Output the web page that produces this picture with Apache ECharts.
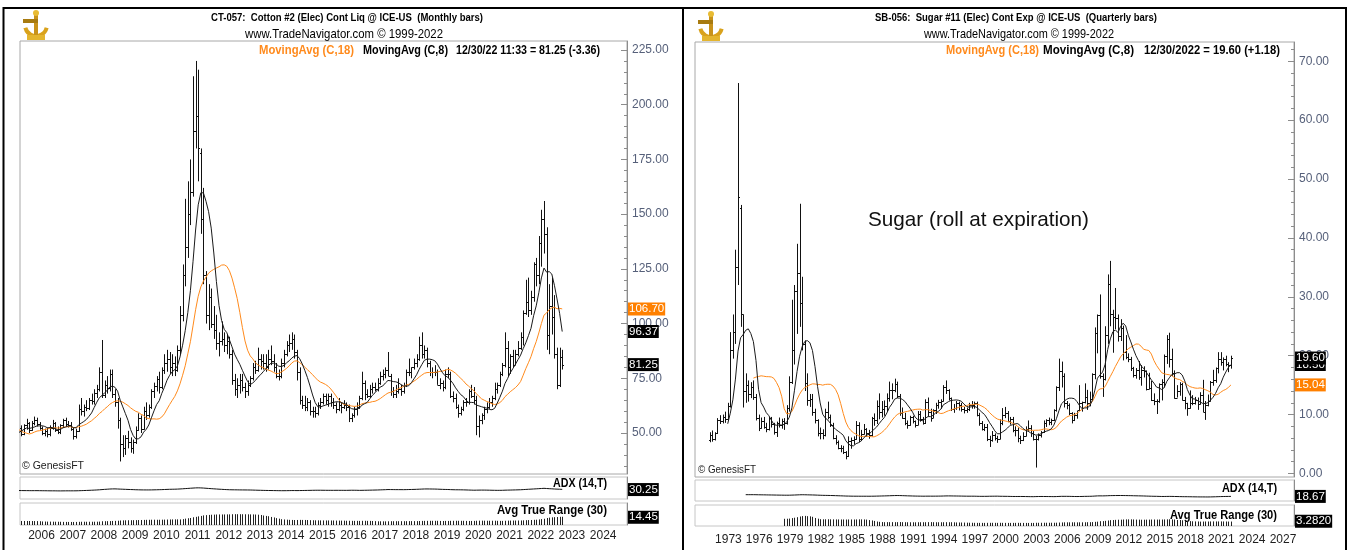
<!DOCTYPE html>
<html><head><meta charset="utf-8">
<script src="https://cdn.jsdelivr.net/npm/echarts@6/dist/echarts.min.js"></script>
<style>html,body{margin:0;padding:0;background:#fff;}#c{width:1351px;height:550px;}</style>
</head><body><div id="c"></div>
<script>
// ---------------- Cotton #2, monthly bars from Jan 2003 ----------------
const cottonStartYear = 2003;
const cottonOpen = [
50.5,55,54,53.5,55,50,52.5,48,53.5,62,72,70,
73,70,64,62,61,58,49,46,45.5,49.5,46,45,
44.5,47,49.5,53.5,52,53,50,52.5,49.5,53.5,54.5,51.5,
54.5,56,54,52.5,50,51,49.5,52.5,54.5,51.5,50.5,53.5,
56,54,53.5,52,48.5,51,61,60,62,61.5,65,64.5,
68.5,70,78,67.5,72,70.5,77,68,64,56,45,43,
47.5,46,43,46,51.5,57,52,60,58,62,69,71.5,
74.5,71,79,82,84,80,82,79,88,104,122,135,
150,160,188,195,178,148,122,104,112,100,97,91,
92,93,90,92,86,74,70,72,74,71,69,72,
75,80,79,84,83,82,80,84,83,80,76,76,
82,86,90,91,93,87,78,65,63,62,64,60,
60,59,63,64,67,65,67,64,63,61,63,62,
63,62,57,58,61,62,66,73,68,67,70,71,
70,73,76,77,79,76,69,68,69,70,69,72,
78,78,80,82,84,90,86,88,82,78,78,78,
72,73,71,77,77,67,66,62,59,61,64,64,
69,67,65,53,56,58,61,62,64,66,70,72,
77,81,89,80,85,81,86,89,93.7,105,110,106,
112,127,122,137,148,141,95,108,103,86,72,84.61];
const cottonHigh = [
56,57.5,57,56,56,54,54,54,63,81,75,76,
76,71,66,64,63,59,51,48,51,50,47,47,
48,50.5,55,56,55,54,54,53.5,54,56.5,55,55.5,
57.5,57,55,53,52,52.5,53.5,56,55,53,54,56.5,
57,55.5,55,52.5,52,63,66,63,65,66,68,70,
72,80,92.5,74,76,79,79,70,66,57,49,49,
51,48,47,53,59,58,62,64,63,70,73,76,
78,80,86,88,87,86,85,90,108,127,157,165,
175,213,220,216,180,162,124,118,116,108,104,96,
101,96,95,94,88,77,75,77,77,73,74,76,
82,83,89,86,86,86,88,90,86,82,79,84,
88,92,95,96,95,88,80,67,67,66,65,62,
62,64,66,68,68,68,68,66,64,66,64,65,
64,63,59,62,64,67,78,74,70,72,73,73,
75,78,79,80,87,77,71,72,75,72,73,79,
84,80,84,86,94,96,90,89,83,80,81,79,
75,74,79,80,78,69,68,63,62,65,66,70,
72,71,67,58,59,62,64,66,67,73,73,78,
82,96,92,86,88,88,92,96,106,120,121,115,
128,130,140,152,156,144,118,121,113,89,89,88];
const cottonLow = [
50,53,52,51.5,49,48,47,47.5,53,61.5,66,68,
69,63,59,59,57,48,45,43.5,45,45,44,42,
44,46,49,51,50.5,48.5,49.5,48.5,49,51.5,50,51,
53.5,53,51.5,49,48.5,48,48.5,51.5,50.5,49.5,49.5,52.5,
53,52.5,51,47,47.5,50.5,58,57.5,60,60.5,63,63,
66,69,66,66,68,69,66,62,52,37,39,40,
43,41,40.5,45,51,50,51.5,56,57,61,66,69,
68,70,77,78,77,76,76,78,86,101,117,130,
145,158,180,165,141,118,100,97,98,93,88,85,
90,87,86,84,72,67,66,68,69,66,67,71,
74,77,78,79,79,78,79,81,78,75,74,75,
80,85,87,88,84,74,63,61,60,60,58,57,
57,58,61,63,63,62,62,61,59,60,59,61,
60,55,55,57,58,61,65,65,66,66,68,69,
69,72,74,75,76,67,66,66,68,67,68,71,
76,75,79,80,83,84,84,80,76,75,76,72,
70,69,70,75,66,64,61,57,58,60,62,63,
66,63,49,48,54,56,59,61,62,65,68,71,
76,80,76,77,80,81,85,88,90,104,103,104,
110,117,118,126,132,88,86,95,84,70,71,79];
const cottonClose = [
55,54,53.5,55,50,52.5,48,53.5,62,72,70,73,
70,64,62,61,58,49,46,45.5,49.5,46,45,44.5,
47,49.5,53.5,52,53,50,52.5,49.5,53.5,54.5,51.5,54.5,
56,54,52.5,50,51,49.5,52.5,54.5,51.5,50.5,53.5,56,
54,53.5,52,48.5,51,61,60,62,61.5,65,64.5,68.5,
70,78,67.5,72,70.5,77,68,64,56,45,43,47.5,
46,43,46,51.5,57,52,60,58,62,69,71.5,74.5,
71,79,82,84,80,82,79,88,104,122,135,150,
160,188,195,180,148,122,104,112,100,97,91,92,
93,90,92,86,74,70,72,74,71,69,72,75,
80,79,84,83,82,80,84,83,80,76,76,82,
86,90,91,93,87,78,65,63,62,64,60,60,
59,63,64,67,65,67,64,63,61,63,62,63,
62,57,58,61,62,66,73,68,67,70,71,70,
73,76,77,79,76,69,68,69,70,69,72,78,
78,80,82,84,90,86,88,82,78,78,78,72,
73,71,77,77,67,66,62,59,61,64,64,69,
67,65,53,56,58,61,62,64,66,70,72,77,
81,89,80,85,81,86,89,93.7,105,110,106,112,
127,122,137,148,141,95,108,103,86,72,84.61,81.25];

// ---------------- Sugar #11, quarterly bars from Q1 1972 ----------------
const sugarStartYear = 1972;
const sugarOpen = [
5.6,6.6,5.9,6.8, 9.0,8.9,9.6,9.2, 11.5,21.0,24.0,35.0, 45.0,27.0,14.0,15.0,
13.5,14.6,13.0,9.5, 7.8,8.9,7.9,7.5, 9.4,8.4,7.0,8.6, 8.2,8.9,8.6,11.2,
15.6,21.0,31.0,34.0, 29.0,22.0,15.4,12.5, 12.7,10.4,9.0,6.9, 6.9,6.6,10.4,9.6,
8.2,6.0,5.4,4.4, 4.3,3.6,2.9,5.5, 5.6,5.9,8.3,5.8, 6.7,7.5,6.8,6.5,
9.4,9.0,11.5,10.5, 11.0,11.4,12.9,14.2, 14.2,15.2,13.2,10.2, 9.4,8.6,8.2,9.6,
8.9,8.3,10.1,9.3, 8.5,12.1,10.5,9.5, 10.7,11.6,12.1,12.3, 14.6,14.1,12.8,11.0,
11.1,11.9,11.6,11.0, 10.8,11.0,11.6,11.7, 11.9,10.0,8.5,7.6, 7.9,5.8,5.6,6.5,
6.1,5.9,8.6,10.0, 10.2,8.9,9.2,7.3, 7.4,6.1,5.6,6.4, 7.6,7.8,6.9,5.8,
5.9,6.5,7.0,8.5, 9.0,8.8,9.1,10.7, 14.7,17.4,16.5,11.9, 11.7,10.3,9.1,10.0,
10.8,12.0,12.1,13.0, 11.9,12.7,16.9,23.9, 26.9,16.5,16.0,23.5, 32.1,27.0,26.6,26.4,
23.3,24.7,20.6,19.7, 19.5,17.9,16.7,17.6, 16.4,17.6,17.4,14.4, 14.5,12.5,12.3,12.3,
15.2,15.5,19.9,22.8, 19.5,17.1,12.9,14.0, 15.2,12.4,11.9,11.1, 12.0,12.0,12.5,11.8,
13.4,10.5,11.6,12.3, 15.5,15.8,17.9,19.4, 18.9,19.4,18.6,18.42];
const sugarHigh = [
7.0,7.3,7.0,9.4, 9.9,10.0,10.5,12.0, 24.0,27.0,38.0,66.3, 45.6,27.0,17.0,15.8,
15.5,15.8,13.5,10.0, 9.5,9.6,8.6,9.6, 9.6,8.6,8.8,9.5, 9.3,9.4,11.6,16.5,
29.5,32.0,39.0,45.8, 33.4,22.6,17.0,13.5, 13.5,11.0,9.2,7.8, 7.5,11.0,12.2,10.0,
8.6,6.5,5.6,4.8, 4.7,3.8,6.3,6.1, 6.3,8.9,8.7,7.4, 8.4,7.7,7.4,9.6,
10.2,12.4,13.6,12.3, 12.4,13.6,15.6,15.3, 16.1,15.6,13.5,11.2, 10.3,9.0,9.8,9.8,
9.0,10.6,10.6,9.6, 12.6,12.9,11.0,10.9, 12.0,12.5,12.6,15.0, 15.8,14.3,12.9,11.8,
12.3,12.2,12.0,11.3, 11.2,12.0,12.3,12.2, 12.2,10.3,8.9,8.4, 8.4,6.4,7.2,6.8,
6.4,9.2,11.1,11.3, 10.6,9.6,9.6,8.0, 7.8,6.4,7.0,8.0, 9.0,8.2,7.2,6.4,
6.8,7.2,9.0,9.2, 9.5,9.3,10.9,14.8, 19.5,19.0,17.0,12.3, 11.9,10.4,10.3,10.6,
15.0,12.2,15.3,14.2, 13.9,17.0,24.8,27.0, 30.4,17.0,25.0,33.8, 36.1,27.8,31.5,27.0,
26.2,25.1,23.5,20.4, 19.8,18.1,17.9,19.1, 18.4,18.2,17.5,17.1, 15.7,13.6,12.6,15.3,
16.0,20.2,23.5,23.9, 21.2,17.5,15.0,15.5, 15.4,13.0,12.0,14.1, 13.3,13.0,12.9,13.8,
15.9,12.3,13.4,15.7, 17.6,18.0,20.6,20.6, 19.7,20.0,18.9,20.0];
const sugarLow = [
5.3,5.4,5.6,6.7, 8.4,8.5,8.6,9.0, 11.2,19.5,22.0,32.0, 24.9,11.2,12.0,12.2,
12.8,12.5,9.0,7.2, 7.6,7.6,7.0,7.3, 7.8,6.6,6.2,7.8, 7.6,7.4,8.3,10.5,
15.2,18.5,23.7,24.9, 20.9,14.0,11.5,11.3, 9.8,8.5,6.3,5.8, 5.8,6.3,9.2,7.9,
5.8,4.9,4.1,3.6, 3.3,2.4,2.8,4.2, 4.9,5.7,5.3,5.5, 6.6,6.2,5.9,6.3,
8.1,8.4,9.2,9.5, 9.8,10.5,12.2,12.6, 13.8,12.8,9.8,9.3, 8.2,7.6,8.1,8.5,
7.8,8.2,8.8,8.3, 8.4,9.7,8.8,9.4, 10.1,11.0,11.0,12.2, 13.5,12.4,10.6,10.3,
10.8,10.7,10.5,10.2, 10.3,10.6,11.0,11.0, 9.7,8.1,7.3,7.2, 5.5,4.5,5.4,5.6,
5.2,5.8,8.2,9.4, 8.7,8.3,7.0,6.3, 5.3,5.0,5.5,6.3, 7.1,6.2,5.6,1.0,
5.6,6.1,6.9,7.9, 8.2,8.2,8.9,10.5, 14.0,14.6,11.2,10.9, 9.9,8.5,8.9,9.3,
10.6,10.5,11.9,10.8, 11.4,12.4,16.0,20.4, 16.1,13.0,15.8,22.0, 25.0,20.5,24.5,22.4,
22.5,19.2,19.4,18.9, 17.4,16.3,16.1,15.9, 14.9,16.3,14.1,14.3, 12.3,11.6,10.1,12.0,
12.4,14.6,18.6,18.0, 16.5,12.7,12.9,13.2, 12.4,10.9,9.8,11.0, 11.6,11.7,10.8,11.7,
10.4,9.1,11.4,12.2, 14.9,15.4,17.0,18.3, 17.5,18.2,17.2,17.8];
const sugarClose = [
6.6,5.9,6.8,9.0, 8.9,9.6,9.2,11.5, 21.0,24.0,35.0,47.0, 27.0,14.0,15.0,13.5,
14.6,13.0,9.5,7.8, 8.9,7.9,7.5,9.4, 8.4,7.0,8.6,8.2, 8.9,8.6,11.2,15.6,
21.0,31.0,34.0,29.0, 22.0,15.4,12.5,12.7, 10.4,9.0,6.9,6.9, 6.6,10.4,9.6,8.2,
6.0,5.4,4.4,4.3, 3.6,2.9,5.5,5.6, 5.9,8.3,5.8,6.7, 7.5,6.8,6.5,9.4,
9.0,11.5,10.5,11.0, 11.4,12.9,14.2,14.2, 15.2,13.2,10.2,9.4, 8.6,8.2,9.6,8.9,
8.3,10.1,9.3,8.5, 12.1,10.5,9.5,10.7, 11.6,12.1,12.3,14.6, 14.1,12.8,11.0,11.1,
11.9,11.6,11.0,10.8, 11.0,11.6,11.7,11.9, 10.0,8.5,7.6,7.9, 5.8,5.6,6.5,6.1,
5.9,8.6,10.0,10.2, 8.9,9.2,7.3,7.4, 6.1,5.6,6.4,7.6, 7.8,6.9,5.8,5.9,
6.5,7.0,8.5,9.0, 8.8,9.1,10.7,14.7, 17.4,16.5,11.9,11.7, 10.3,9.1,10.0,10.8,
12.0,12.1,13.0,11.9, 12.7,16.9,23.9,26.9, 16.5,16.0,23.5,32.1, 27.0,26.6,26.4,23.3,
24.7,20.6,19.7,19.5, 17.9,16.7,17.6,16.4, 17.6,17.4,14.4,14.5, 12.5,12.3,12.3,15.2,
15.5,19.9,22.8,19.5, 17.1,12.9,14.0,15.2, 12.4,11.9,11.1,12.0, 12.0,12.5,11.8,13.4,
10.5,11.6,12.3,15.5, 15.8,17.9,19.4,18.9, 19.4,18.6,18.42,19.6];

// ---------------- axis labels / tick values / readout tags ----------------
const cottonYearLabels = [2006,2007,2008,2009,2010,2011,2012,2013,2014,2015,2016,2017,2018,2019,2020,2021,2022,2023,2024];
const sugarYearLabels = [1973,1976,1979,1982,1985,1988,1991,1994,1997,2000,2003,2006,2009,2012,2015,2018,2021,2024,2027];
const cottonPriceTicks = [50,75,100,125,150,175,200,225];
const sugarPriceTicks = [0,10,20,30,40,50,60,70];
const cottonTagValues = [106.70, 96.37, 81.25];   // MA18, MA8, last
const cottonIndicatorTags = [30.25, 14.45];       // ADX, ATR
const sugarTagValues = [15.04, 18.50, 19.60];     // MA18, MA8, last
const sugarIndicatorTags = [18.67, 3.2820];       // ADX, ATR

// ---------------- indicator helpers ----------------
function sma(v, n) {
  return v.map((_, i) => { if (i < n - 1) return null; let s = 0; for (let k = i - n + 1; k <= i; k++) s += v[k]; return s / n; });
}
function atrSeries(H, L, C, n) {
  const tr = H.map((h, i) => i === 0 ? h - L[i] : Math.max(h - L[i], Math.abs(h - C[i - 1]), Math.abs(L[i] - C[i - 1])));
  return sma(tr, n);
}
function adxSeries(H, L, C, n) {
  const out = new Array(H.length).fill(null);
  let trS = 0, pS = 0, mS = 0, adx = null;
  for (let i = 1; i < H.length; i++) {
    const up = H[i] - H[i - 1], dn = L[i - 1] - L[i];
    const pdm = (up > dn && up > 0) ? up : 0, mdm = (dn > up && dn > 0) ? dn : 0;
    const tr = Math.max(H[i] - L[i], Math.abs(H[i] - C[i - 1]), Math.abs(L[i] - C[i - 1]));
    if (i <= n) { trS += tr; pS += pdm; mS += mdm; if (i < n) continue; }
    else { trS = trS - trS / n + tr; pS = pS - pS / n + pdm; mS = mS - mS / n + mdm; }
    const pdi = 100 * pS / trS, mdi = 100 * mS / trS;
    const dx = (pdi + mdi) === 0 ? 0 : 100 * Math.abs(pdi - mdi) / (pdi + mdi);
    adx = adx === null ? dx : (adx * (n - 1) + dx) / n;
    out[i] = adx;
  }
  return out;
}

const ARIAL = "'Liberation Sans',Arial,Helvetica,sans-serif";

function ohlcItem(params, api) {
  const x = api.value(0);
  const pH = api.coord([x, api.value(2)]), pL = api.coord([x, api.value(3)]);
  const pO = api.coord([x, api.value(1)]), pC = api.coord([x, api.value(4)]);
  const cx = Math.round(pH[0]) + 0.5;
  const oy = Math.round(pO[1]) + 0.5, cy = Math.round(pC[1]) + 0.5;
  const s = { stroke: '#111', lineWidth: 1 };
  return { type: 'group', children: [
    { type: 'line', shape: { x1: cx, y1: pH[1], x2: cx, y2: pL[1] }, style: s },
    { type: 'line', shape: { x1: cx - 1.5, y1: oy, x2: cx, y2: oy }, style: s },
    { type: 'line', shape: { x1: cx, y1: cy, x2: cx + 1.5, y2: cy }, style: s }
  ]};
}
function histItem(params, api) {
  const x = api.value(0);
  const p = api.coord([x, api.value(1)]);
  const base = params.coordSys.y + params.coordSys.height;
  const cx = Math.round(p[0]) + 0.5;
  return { type: 'line', shape: { x1: cx, y1: base, x2: cx, y2: p[1] }, style: { stroke: '#222', lineWidth: 1 } };
}

function addChart(opt, c) {
  const g0 = opt.grid.length;
  c.grids.forEach((g, k) => opt.grid.push(Object.assign({ show: true, borderWidth: 1, borderColor: k === 0 ? '#a8a8a8' : '#c6c6c6', backgroundColor: 'rgba(0,0,0,0)' }, g)));
  const x0 = opt.xAxis.length;
  for (let k = 0; k < 3; k++) {
    opt.xAxis.push({ gridIndex: g0 + k, type: 'value', min: c.xMin, max: c.xMax, show: k === 2,
      axisLine: { show: false }, axisTick: { show: false }, splitLine: { show: false },
      axisLabel: k === 2 ? { customValues: c.years.map(y => y + c.yearShift), formatter: v => String(Math.floor(v)),
        color: '#1e1e1e', fontFamily: ARIAL, fontSize: 12, margin: c.yearMargin } : { show: false } });
  }
  const ranges = [[c.yMin, c.yMax], c.adxRange, c.atrRange];
  const yMain = opt.yAxis.length;
  opt.yAxis.push({ gridIndex: g0, type: 'value', min: c.yMin, max: c.yMax, position: 'right', z: 2,
    axisLine: { show: true, lineStyle: { color: '#8c8c8c', width: 1 } },
    axisTick: { show: true, inside: true, length: 6, customValues: c.ticks, lineStyle: { color: '#8c8c8c' } },
    axisLabel: { customValues: c.ticks, formatter: v => v.toFixed(2), color: '#56607a', fontFamily: ARIAL, fontSize: 12, margin: 5 },
    splitLine: { show: false } });
  opt.yAxis.push({ gridIndex: g0, type: 'value', min: c.yMin, max: c.yMax, position: 'right', z: 2,
    axisLine: { show: false }, axisTick: { show: true, inside: true, length: 3, customValues: c.minor, lineStyle: { color: '#8c8c8c' } },
    axisLabel: { show: false }, splitLine: { show: false } });
  const yAdx = opt.yAxis.length;
  opt.yAxis.push({ gridIndex: g0 + 1, type: 'value', min: c.adxRange[0], max: c.adxRange[1], position: 'right',
    axisLine: { show: true, lineStyle: { color: '#8c8c8c' } }, axisTick: { show: false }, axisLabel: { show: false }, splitLine: { show: false } });
  const yAtr = opt.yAxis.length;
  opt.yAxis.push({ gridIndex: g0 + 2, type: 'value', min: c.atrRange[0], max: c.atrRange[1], position: 'right',
    axisLine: { show: true, lineStyle: { color: '#8c8c8c' } }, axisTick: { show: false }, axisLabel: { show: false }, splitLine: { show: false } });
  c.tags.forEach((t, k) => opt.yAxis.push({ gridIndex: g0 + t.panel, type: 'value', min: ranges[t.panel][0], max: ranges[t.panel][1],
    position: 'right', z: 5 + k, axisLine: { show: false }, axisTick: { show: false }, splitLine: { show: false },
    axisLabel: { customValues: [t.value], formatter: () => t.value.toFixed(t.dec), color: '#fff', backgroundColor: t.bg,
      padding: [1, 1, 0, 1], fontFamily: ARIAL, fontSize: 11.5, lineHeight: 12, margin: 1 } }));

  const tt = c.open.map((_, i) => c.startYear + i / c.perYear + 0.5 / c.perYear);
  const ohlc = tt.map((t, i) => [t, c.open[i], c.high[i], c.low[i], c.close[i]]);
  const pts = arr => tt.map((t, i) => [t, arr[i]]).filter(p => p[1] !== null);
  const ma18 = sma(c.close, 18), ma8 = sma(c.close, 8);
  const adx = adxSeries(c.high, c.low, c.close, 14), atr = atrSeries(c.high, c.low, c.close, 30);
  opt.series.push({ type: 'custom', xAxisIndex: x0, yAxisIndex: yMain, clip: true, silent: true, z: 2,
    data: ohlc, encode: { x: 0, y: [1, 2, 3, 4] }, renderItem: ohlcItem });
  opt.series.push({ type: 'line', xAxisIndex: x0, yAxisIndex: yMain, data: pts(ma18), showSymbol: false, silent: true, z: 3,
    lineStyle: { color: '#ff8a1c', width: 1 } });
  opt.series.push({ type: 'line', xAxisIndex: x0, yAxisIndex: yMain, data: pts(ma8), showSymbol: false, silent: true, z: 4,
    lineStyle: { color: '#1a1a1a', width: 1 } });
  opt.series.push({ type: 'line', xAxisIndex: x0 + 1, yAxisIndex: yAdx, data: pts(adx), showSymbol: false, silent: true,
    lineStyle: { color: '#111', width: 1 } });
  opt.series.push({ type: 'custom', xAxisIndex: x0 + 2, yAxisIndex: yAtr, clip: true, silent: true,
    data: pts(atr), encode: { x: 0, y: 1 }, renderItem: histItem });
}

function logo(x0, y0) {
  return { type: 'group', x: x0, y: y0, silent: true, children: [
    { type: 'sector', shape: { cx: 14, cy: 15, r: 13, r0: 9, startAngle: Math.PI * 0.08, endAngle: Math.PI * 0.92 }, style: { fill: '#d9a21c' } },
    { type: 'rect', shape: { x: 12, y: 2, width: 4, height: 24 }, style: { fill: '#c8921a' } },
    { type: 'rect', shape: { x: 1, y: 9, width: 15, height: 4 }, style: { fill: '#a87b10' } },
    { type: 'circle', shape: { cx: 14, cy: 3, r: 3 }, style: { fill: '#e8bb33' } },
    { type: 'rect', shape: { x: 5, y: 25, width: 18, height: 5 }, style: { fill: '#e4b52e' } }
  ]};
}
// text squeezed horizontally to the width it takes in the reference (narrow face)
const measureCtx = document.createElement('canvas').getContext('2d');
function txt(x, y, text, font, fill, align, width) {
  let sx = 1;
  if (width) { measureCtx.font = font; sx = width / measureCtx.measureText(text).width; }
  return { type: 'text', x: x, y: y, scaleX: sx, silent: true,
    style: { text: text, font: font, fill: fill || '#000', align: align || 'left', verticalAlign: 'middle' } };
}

const option = { animation: false, grid: [], xAxis: [], yAxis: [], series: [], graphic: [] };

addChart(option, {
  grids: [{ left: 20, top: 41, width: 607, height: 433 }, { left: 20, top: 477, width: 607, height: 22 }, { left: 20, top: 503, width: 607, height: 22 }],
  xMin: 2005.58, xMax: 2025.035, years: cottonYearLabels, yearShift: 0.27, yearMargin: 5,
  yMin: 31.27, yMax: 229.11, ticks: cottonPriceTicks, minor: [35,40,45,55,60,65,70,80,85,90,95,105,110,115,120,130,135,140,145,155,160,165,170,180,185,190,195,205,210,215,220],
  adxRange: [-120, 230], atrRange: [-2.1, 45],
  startYear: cottonStartYear, perYear: 12,
  open: cottonOpen, high: cottonHigh, low: cottonLow, close: cottonClose,
  tags: [
    { panel: 0, value: cottonTagValues[0], dec: 2, bg: '#ff8000' },
    { panel: 0, value: cottonTagValues[1], dec: 2, bg: '#000' },
    { panel: 0, value: cottonTagValues[2], dec: 2, bg: '#000' },
    { panel: 1, value: cottonIndicatorTags[0], dec: 2, bg: '#000' },
    { panel: 2, value: cottonIndicatorTags[1], dec: 2, bg: '#000' }
  ]
});
addChart(option, {
  grids: [{ left: 695, top: 42, width: 599, height: 435 }, { left: 695, top: 480, width: 599, height: 21 }, { left: 695, top: 505, width: 599, height: 21 }],
  xMin: 1970.688, xMax: 2029.013, years: sugarYearLabels, yearShift: 0.94, yearMargin: 8,
  yMin: -0.6, yMax: 73.27, ticks: sugarPriceTicks, minor: [2,4,6,8,12,14,16,18,22,24,26,28,32,34,36,38,42,44,46,48,52,54,56,58,62,64,66,68,72],
  adxRange: [-60, 300], atrRange: [-1, 18],
  startYear: sugarStartYear, perYear: 4,
  open: sugarOpen, high: sugarHigh, low: sugarLow, close: sugarClose,
  tags: [
    { panel: 0, value: sugarTagValues[0], dec: 2, bg: '#ff8000' },
    { panel: 0, value: sugarTagValues[1], dec: 2, bg: '#000' },
    { panel: 0, value: sugarTagValues[2], dec: 2, bg: '#000' },
    { panel: 1, value: sugarIndicatorTags[0], dec: 2, bg: '#000' },
    { panel: 2, value: sugarIndicatorTags[1], dec: 4, bg: '#000' }
  ]
});

option.graphic = [
  { type: 'rect', silent: true, shape: { x: 3.5, y: 8, width: 679.5, height: 560 }, style: { fill: 'none', stroke: '#000', lineWidth: 2 } },
  { type: 'rect', silent: true, shape: { x: 683, y: 8, width: 663, height: 560 }, style: { fill: 'none', stroke: '#000', lineWidth: 2 } },
  logo(22, 10), logo(697, 11),
  txt(347, 18, 'CT-057:  Cotton #2 (Elec) Cont Liq @ ICE-US  (Monthly bars)', 'bold 11px ' + ARIAL, '#000', 'center', 272),
  txt(344, 34, 'www.TradeNavigator.com \u00a9 1999-2022', '13px ' + ARIAL, '#000', 'center', 198),
  txt(259, 50, 'MovingAvg (C,18)', 'bold 13px ' + ARIAL, '#ff8a1c', 'left', 95),
  txt(363, 50, 'MovingAvg (C,8)', 'bold 13px ' + ARIAL, '#000', 'left', 85),
  txt(456, 50, '12/30/22 11:33 = 81.25 (-3.36)', 'bold 13px ' + ARIAL, '#000', 'left', 144),
  txt(22, 466, '\u00a9 GenesisFT', '10px ' + ARIAL, '#222', 'left', 62),
  txt(607, 483, 'ADX (14,T)', 'bold 13px ' + ARIAL, '#000', 'right', 54),
  txt(607, 510, 'Avg True Range (30)', 'bold 13px ' + ARIAL, '#000', 'right', 110),
  txt(1016, 18, 'SB-056:  Sugar #11 (Elec) Cont Exp @ ICE-US  (Quarterly bars)', 'bold 11px ' + ARIAL, '#000', 'center', 282),
  txt(1019, 34, 'www.TradeNavigator.com \u00a9 1999-2022', '13px ' + ARIAL, '#000', 'center', 190),
  txt(946, 50, 'MovingAvg (C,18)', 'bold 13px ' + ARIAL, '#ff8a1c', 'left', 93),
  txt(1043, 50, 'MovingAvg (C,8)', 'bold 13px ' + ARIAL, '#000', 'left', 91),
  txt(1144, 50, '12/30/2022 = 19.60 (+1.18)', 'bold 13px ' + ARIAL, '#000', 'left', 136),
  txt(698, 470, '\u00a9 GenesisFT', '10px ' + ARIAL, '#222', 'left', 58),
  txt(1277, 488, 'ADX (14,T)', 'bold 13px ' + ARIAL, '#000', 'right', 55),
  txt(1277, 515, 'Avg True Range (30)', 'bold 13px ' + ARIAL, '#000', 'right', 107),
  txt(868, 220, 'Sugar (roll at expiration)', '21px ' + ARIAL, '#111', 'left', 221)
];

const chart = echarts.init(document.getElementById('c'), null, { renderer: 'canvas' });
chart.setOption(option);
</script></body></html>
